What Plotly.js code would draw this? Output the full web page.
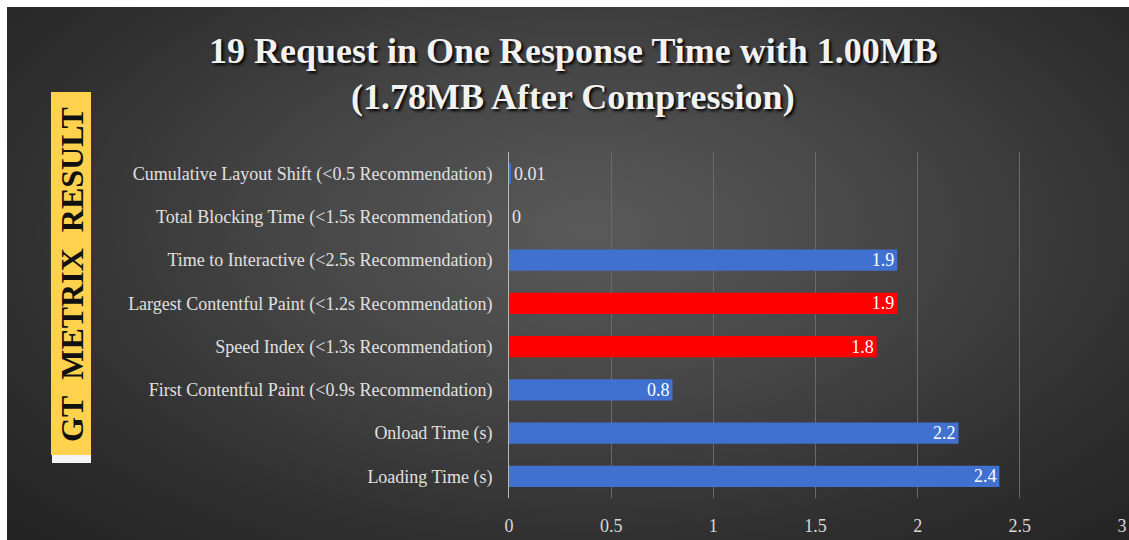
<!DOCTYPE html>
<html>
<head>
<meta charset="utf-8">
<script src="https://cdn.plot.ly/plotly-3.0.1.min.js"></script>
<style>
  html, body { margin: 0; padding: 0; background: #ffffff; }
  #bg { position: absolute; left: 7px; top: 7px; width: 1122px; height: 533px;
        background: radial-gradient(ellipse 70% 80% at 52% 42%, #5a5a5a 0%, #454545 40%, #2f2f2f 75%, #242424 100%); }
  #chart { position: absolute; left: 0; top: 0; width: 1129px; height: 540px; }
</style>
</head>
<body>
<div id="bg"></div>
<div id="chart"></div>
<script>
const categories = [
  "Cumulative Layout Shift (<0.5 Recommendation)",
  "Total Blocking Time (<1.5s Recommendation)",
  "Time to Interactive (<2.5s Recommendation)",
  "Largest Contentful Paint (<1.2s Recommendation)",
  "Speed Index (<1.3s Recommendation)",
  "First Contentful Paint (<0.9s Recommendation)",
  "Onload Time (s)",
  "Loading Time (s)"
];
const values = [0.01, 0, 1.9, 1.9, 1.8, 0.8, 2.2, 2.4];
const valueLabels = ["0.01", "0", "1.9", "1.9", "1.8", "0.8", "2.2", "2.4"];
const barColors = ["#4070d0", "#4070d0", "#4070d0", "#ff0000", "#ff0000", "#4070d0", "#4070d0", "#4070d0"];
const labelPositions = ["outside", "outside", "inside", "inside", "inside", "inside", "inside", "inside"];
const xTicks = [0, 0.5, 1, 1.5, 2, 2.5, 3];
const titleLines = ["19 Request in One Response Time with 1.00MB", "(1.78MB After Compression)"];
const sideLabel = "GT&nbsp;&nbsp;METRIX&nbsp;&nbsp;RESULT";

const serif = "Liberation Serif, Times New Roman, serif";

const trace = {
  type: "bar",
  orientation: "h",
  y: categories,
  x: values,
  text: valueLabels,
  textposition: labelPositions,
  insidetextanchor: "end",
  constraintext: "none",
  textfont: { family: serif, size: 18, color: "#ffffff" },
  insidetextfont: { family: serif, size: 18, color: "#ffffff" },
  outsidetextfont: { family: serif, size: 18, color: "#e6e6e6" },
  cliponaxis: false,
  marker: { color: barColors, line: { width: 0 } },
  hoverinfo: "none"
};

const plotLeft = 509, plotRight = 1122, plotTop = 152, plotBottom = 498;
const px2x = p => (p - plotLeft) / (plotRight - plotLeft);
const px2y = p => (plotBottom - p) / (plotBottom - plotTop);

const layout = {
  width: 1129,
  height: 540,
  paper_bgcolor: "rgba(0,0,0,0)",
  plot_bgcolor: "rgba(0,0,0,0)",
  margin: { l: plotLeft, r: 1129 - plotRight, t: plotTop, b: 540 - plotBottom, pad: 0 },
  showlegend: false,
  bargap: 0.51,
  xaxis: {
    range: [0, 3],
    tickvals: xTicks,
    ticktext: xTicks.map(String),
    showgrid: true,
    gridcolor: "#6a6a6a",
    gridwidth: 1,
    zeroline: false,
    showline: false,
    ticks: "outside",
    ticklen: 11,
    tickcolor: "rgba(0,0,0,0)",
    tickfont: { family: serif, size: 18, color: "#d8d8d8" },
    fixedrange: true
  },
  yaxis: {
    autorange: "reversed",
    showgrid: false,
    zeroline: false,
    showline: true,
    linecolor: "#b8b8b8",
    linewidth: 1,
    ticks: "outside",
    ticklen: 12,
    tickcolor: "rgba(0,0,0,0)",
    tickfont: { family: serif, size: 18, color: "#e0e0e0" },
    fixedrange: true
  },
  shapes: [
    { type: "rect", xref: "paper", yref: "paper",
      x0: px2x(52), x1: px2x(91), y0: px2y(463), y1: px2y(455),
      fillcolor: "rgba(255,255,255,0.95)", line: { width: 0 }, layer: "below" },
    { type: "rect", xref: "paper", yref: "paper",
      x0: px2x(51), x1: px2x(91), y0: px2y(455), y1: px2y(92),
      fillcolor: "#ffd24d", line: { width: 0 }, layer: "below" }
  ],
  annotations: [
    { xref: "paper", yref: "paper", x: px2x(573), y: px2y(51),
      text: "<b>" + titleLines[0] + "</b>", showarrow: false,
      xanchor: "center", yanchor: "middle",
      font: { family: serif, size: 36, color: "#f2f2f2", shadow: "2px 2px 3px #000000" } },
    { xref: "paper", yref: "paper", x: px2x(573), y: px2y(97),
      text: "<b>" + titleLines[1] + "</b>", showarrow: false,
      xanchor: "center", yanchor: "middle",
      font: { family: serif, size: 36, color: "#f2f2f2", shadow: "2px 2px 3px #000000" } },
    { xref: "paper", yref: "paper", x: px2x(72), y: px2y(275),
      text: "<b>" + sideLabel + "</b>", showarrow: false, textangle: -90,
      xanchor: "center", yanchor: "middle",
      font: { family: serif, size: 32, color: "#111111" } }
  ]
};

Plotly.newPlot("chart", [trace], layout, { displayModeBar: false, staticPlot: true });
</script>
</body>
</html>
